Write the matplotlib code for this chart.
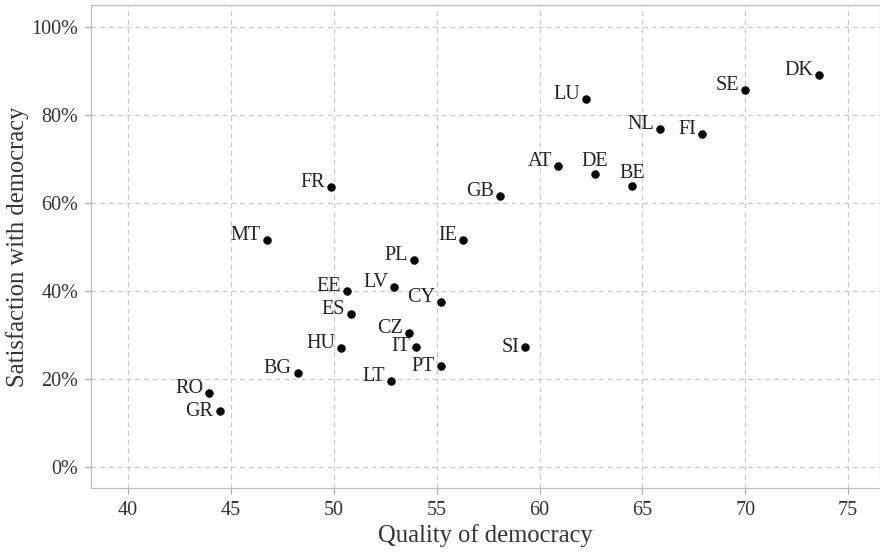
import matplotlib
matplotlib.use("Agg")
import matplotlib.pyplot as plt
from matplotlib.ticker import PercentFormatter

plt.rcParams['font.family'] = ['Liberation Serif', 'DejaVu Serif']

# country codes, quality of democracy index, share satisfied with democracy
countries = ['DK', 'SE', 'LU', 'NL', 'FI', 'AT', 'DE', 'BE', 'GB', 'FR',
             'MT', 'IE', 'PL', 'EE', 'LV', 'CY', 'ES', 'CZ', 'HU', 'IT',
             'SI', 'PT', 'BG', 'LT', 'RO', 'GR']
quality = [73.6, 70.0, 62.25, 65.85, 67.9, 60.9, 62.7, 64.5, 58.1, 49.85,
           46.75, 56.3, 53.9, 50.65, 52.95, 55.2, 50.85, 53.65, 50.35, 54.0,
           59.3, 55.2, 48.25, 52.8, 43.95, 44.45]
satisfaction = [0.892, 0.856, 0.837, 0.768, 0.757, 0.683, 0.665, 0.639, 0.616, 0.636,
                0.515, 0.515, 0.471, 0.400, 0.410, 0.374, 0.348, 0.304, 0.271, 0.273,
                0.272, 0.229, 0.214, 0.195, 0.168, 0.126]

# labels that would collide go above the point or level with it
above = {'DE', 'BE'}
level = {'IT', 'SI', 'PT', 'GR'}

fig = plt.figure(figsize=(8.8, 5.52), dpi=100)
ax = fig.add_axes([0.1034, 0.1159, 0.8966, 0.875])

ax.scatter(quality, satisfaction, s=26, color='black', zorder=3)
for name, x, y in zip(countries, quality, satisfaction):
    if name in above:
        off, ha = (0, 12.5), 'center'
    elif name in level:
        off, ha = (-6, 0), 'right'
    else:
        off, ha = (-6, 4.5), 'right'
    ax.annotate(name, (x, y), xytext=off, textcoords='offset pixels',
                ha=ha, va='center', fontsize=14.5, color='#222222')

ax.set_xlim(38.2, 76.55)
ax.set_ylim(-0.048, 1.05)
ax.set_xticks(range(40, 80, 5))
ax.set_yticks([0, 0.2, 0.4, 0.6, 0.8, 1.0])
ax.yaxis.set_major_formatter(PercentFormatter(1.0, decimals=0))

ax.grid(True, linestyle=(0, (4, 3)), color='#c8c8c8', linewidth=0.9)
ax.set_axisbelow(True)
for side in ax.spines.values():
    side.set_color('#bdbdbd')
    side.set_linewidth(0.9)
ax.tick_params(length=4, width=0.8, color='#aaaaaa', labelsize=14.5,
               labelcolor='#333333', pad=5)

ax.set_xlabel('Quality of democracy', fontsize=17.7, color='#333333', labelpad=3)
ax.set_ylabel('Satisfaction with democracy', fontsize=17.7, color='#333333', labelpad=2)

fig.savefig('out.png', dpi=100)
